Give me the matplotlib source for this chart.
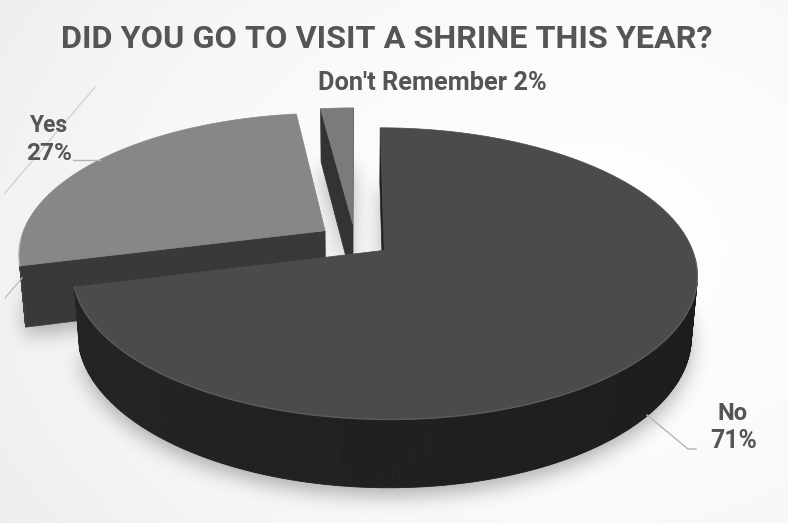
import matplotlib
matplotlib.use("Agg")
import matplotlib.pyplot as plt
from matplotlib.patches import Polygon
from matplotlib.path import Path
from matplotlib import font_manager
import numpy as np

# data
labels = ["No", "Yes", "Don't Remember"]
values = [71, 27, 2]
pct_labels = ["71%", "27%", "2%"]
title = "DID YOU GO TO VISIT A SHRINE THIS YEAR?"

top_colors = ["#4b4b4b", "#878787", "#7b7b7b"]
side_colors = ["#202020", "#393939", "#333333"]
text_color = "#555555"

W, H = 788, 523

# simple perspective camera for the 3d pie
ELEV = np.radians(26.6)
DIST = 5.66
FOCAL_X = 1725.0
FOCAL_Y = 1755.0
X0, Y0 = 355.0, 240.0
DEPTH = 0.22
EXPLODE = 0.12
SIN, COS = np.sin(ELEV), np.cos(ELEV)
CAM = np.array([0.0, -DIST * COS])


def project(x, y, z):
    zc = DIST + y * COS - z * SIN
    yc = y * SIN + z * COS
    return X0 + FOCAL_X * np.asarray(x) / zc, Y0 - FOCAL_Y * yc / zc


def shade(hexcol, f):
    rgb = np.array(matplotlib.colors.to_rgb(hexcol)) * f
    return tuple(np.clip(rgb, 0, 1))


names = {f.name for f in font_manager.fontManager.ttflist}
font = next((n for n in ["Liberation Sans Narrow", "Roboto", "Lato", "DejaVu Sans"] if n in names), "DejaVu Sans")

fig = plt.figure(figsize=(W / 100, H / 100), dpi=100)
ax = fig.add_axes([0, 0, 1, 1])
ax.set_xlim(0, W)
ax.set_ylim(H, 0)
ax.axis("off")

# background
yy, xx = np.mgrid[0:H, 0:W]
r2 = ((xx - 580) / 720.0) ** 2 + ((yy - 250) / 540.0) ** 2
bg = np.clip(0.995 - 0.07 * r2, 0, 1)
ax.imshow(np.dstack([bg, bg, bg]), extent=[0, W, H, 0], zorder=0, interpolation="bilinear")

# slice geometry
total = float(sum(values))
start = 90.0
slices = []
for i, v in enumerate(values):
    sweep = 360.0 * v / total
    t1, t2 = start, start - sweep
    mid = np.radians((t1 + t2) / 2)
    slices.append(dict(i=i, t1=t1, t2=t2, sweep=sweep,
                       vx=EXPLODE * np.cos(mid), vy=EXPLODE * np.sin(mid)))
    start = t2

# soft shadow
pts = np.column_stack([xx.ravel() + 0.5, yy.ravel() + 0.5 - 8])
mask = np.zeros(H * W)
for s in slices:
    a = np.radians(np.linspace(s["t2"], s["t1"], 200))
    bx, by = project(s["vx"] + np.cos(a), s["vy"] + np.sin(a), -DEPTH)
    px, py = project(s["vx"], s["vy"], -DEPTH)
    poly = np.column_stack([np.r_[px, bx], np.r_[py, by]])
    mask = np.maximum(mask, Path(poly).contains_points(pts))
mask = mask.reshape(H, W)
k = np.exp(-0.5 * (np.arange(-30, 31) / 10.0) ** 2)
k /= k.sum()
mask = np.apply_along_axis(lambda m: np.convolve(m, k, mode="same"), 1, mask)
mask = np.apply_along_axis(lambda m: np.convolve(m, k, mode="same"), 0, mask)
shadow = np.zeros((H, W, 4))
shadow[..., 3] = 0.3 * mask
ax.imshow(shadow, extent=[0, W, H, 0], zorder=1, interpolation="bilinear")

# draw slices back to front
z = 2
for s in [slices[2], slices[1], slices[0]]:
    i = s["i"]
    vx, vy = s["vx"], s["vy"]
    n = max(6, int(s["sweep"] * 2))
    ang = np.radians(np.linspace(s["t2"], s["t1"], n))
    tx, ty = project(vx + np.cos(ang), vy + np.sin(ang), 0)
    bx, by = project(vx + np.cos(ang), vy + np.sin(ang), -DEPTH)
    vtx, vty = project(vx, vy, 0)
    vbx, vby = project(vx, vy, -DEPTH)

    # radial cut faces
    for te, tn in [(s["t1"], s["t1"] + 90), (s["t2"], s["t2"] - 90)]:
        nv = np.array([np.cos(np.radians(tn)), np.sin(np.radians(tn))])
        if nv @ (CAM - np.array([vx, vy])) > 0:
            ex, ey = np.cos(np.radians(te)), np.sin(np.radians(te))
            rtx, rty = project(vx + ex, vy + ey, 0)
            rbx, rby = project(vx + ex, vy + ey, -DEPTH)
            ax.add_patch(Polygon([[vtx, vty], [rtx, rty], [rbx, rby], [vbx, vby]],
                                 closed=True, fc=side_colors[i], ec=side_colors[i],
                                 lw=0.5, zorder=z))
    z += 1

    # outer side
    for j in range(n - 1):
        am = 0.5 * (ang[j] + ang[j + 1])
        p = np.array([vx + np.cos(am), vy + np.sin(am)])
        nv = np.array([np.cos(am), np.sin(am)])
        if nv @ (CAM - p) > 0:
            f = 1.0 + 0.12 * (-np.cos(am))
            col = shade(side_colors[i], f)
            ax.add_patch(Polygon([[tx[j], ty[j]], [tx[j + 1], ty[j + 1]],
                                  [bx[j + 1], by[j + 1]], [bx[j], by[j]]],
                                 closed=True, fc=col, ec=col, lw=0.6, zorder=z))
    z += 1

    # top face
    top = np.column_stack([np.r_[vtx, tx], np.r_[vty, ty]])
    ax.add_patch(Polygon(top, closed=True, fc=top_colors[i], ec=top_colors[i],
                         lw=0.5, zorder=z))
    z += 1
    # light bevel along the front rim
    front = np.sin(ang) < -0.05
    if front.any():
        ax.plot(np.where(front, tx, np.nan), np.where(front, ty, np.nan),
                color=shade(top_colors[i], 1.35), lw=1.0, alpha=0.7, zorder=z)
    z += 1

# leader lines and faint decoration
line_col = "#b4b4b4"
ax.plot([73, 100], [160, 160], color=line_col, lw=1.0, zorder=z)
ax.plot([95, 5], [87, 193], color="#cfcfcf", lw=0.9, zorder=z)
ax.plot([22, 5], [278, 298], color="#bdbdbd", lw=0.9, zorder=z)
ax.plot([647, 688, 696], [415, 449, 449], color=line_col, lw=1.0, zorder=z)

# text
fig.canvas.draw()
rend = fig.canvas.get_renderer()


def fit_text(txt, x0, x1, base, weight="bold"):
    t = ax.text((x0 + x1) / 2, base, txt, ha="center", va="baseline",
                fontsize=20, fontweight=weight, color=text_color,
                family=[font, "DejaVu Sans"], zorder=z + 2)
    bb = t.get_window_extent(renderer=rend)
    t.set_fontsize(20 * (x1 - x0) / bb.width)
    return t


fit_text(title, 62, 712, 48)
fit_text(labels[2] + " " + pct_labels[2], 318, 546, 90)
fit_text(labels[1], 30, 68, 132)
fit_text(pct_labels[1], 26, 72, 160)
fit_text(labels[0], 718, 748, 420)
fit_text(pct_labels[0], 710, 757, 448)

fig.savefig("out.png", dpi=100)
